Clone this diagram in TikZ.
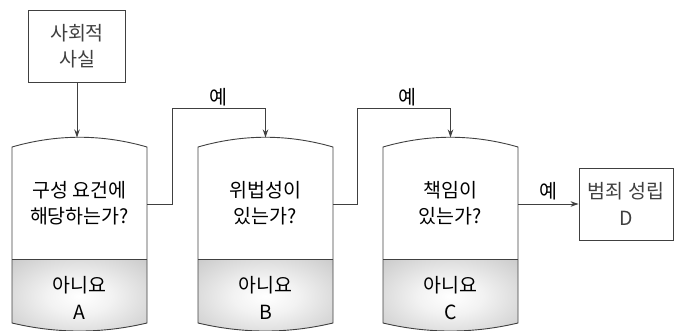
\documentclass[tikz,border=0pt]{standalone}
\usepackage{fontspec}
\setmainfont{Noto Sans CJK KR}
\usepackage{tikz}
\usetikzlibrary{arrows.meta}

\pgfdeclareradialshading{nogray}{\pgfpoint{0bp}{0bp}}{color(0bp)=(white); color(12bp)=(white!90!gray); color(48bp)=(gray!58); color(100bp)=(gray!58)}

% barrel: name, left x, question, answer
\newcommand{\barrel}[4]{%
\begin{scope}[shift={(#2,0)}]
\shade [shading=nogray] (0,259) -- (0,323) .. controls (45,333.7) and (90,333.7) .. (135,323) -- (135,259) -- cycle;
\draw [line] (0,147) .. controls (45,134) and (90,134) .. (135,147) -- (135,323) .. controls (90,333.7) and (45,333.7) .. (0,323) -- cycle;
\draw [line] (0,259) -- (135,259);
\node [txt] (#1-q) at (67.5,203) {#3};
\node [txt] (#1-n) at (67.5,298) {#4};
\coordinate (#1-top) at (67.5,137.5);
\coordinate (#1-out) at (135,204);
\end{scope}}

\begin{document}
\begin{tikzpicture}[x=1pt, y=-1pt,
  line/.style = {black!75, line width=0.9pt},
  flow/.style = {line, -{Stealth[length=8pt, width=5.5pt]}},
  txt/.style = {align=center, font=\fontsize{19.5}{26.5}\selectfont, inner sep=0pt},
  box/.style = {line, draw, txt, minimum width=97pt, minimum height=72pt}]
\useasboundingbox (0,0) rectangle (674,331);

\node [box] (fact) at (77,46) {사회적\\사실};
\barrel{a}{12}{구성 요건에\\해당하는가?}{아니요\\A}
\barrel{b}{198}{위법성이\\있는가?}{아니요\\B}
\barrel{c}{383}{책임이\\있는가?}{아니요\\C}
\node [box, minimum width=94pt] (crime) at (626,204) {범죄 성립\\D};

\coordinate (hop1) at (172,108);
\coordinate (hop2) at (357,108);
\draw [flow] (fact.south) -- (fact.south |- a-top);
\draw [flow] (a-out) -| (hop1) -| (b-top);
\draw [flow] (b-out) -| (hop2) -| (c-top);
\draw [flow] (c-out) -- (crime.west);

\node [txt] (yes1) at (218,97) {예};
\node [txt] (yes2) at (407,97) {예};
\node [txt] (yes3) at (548,191) {예};
\end{tikzpicture}
\end{document}
